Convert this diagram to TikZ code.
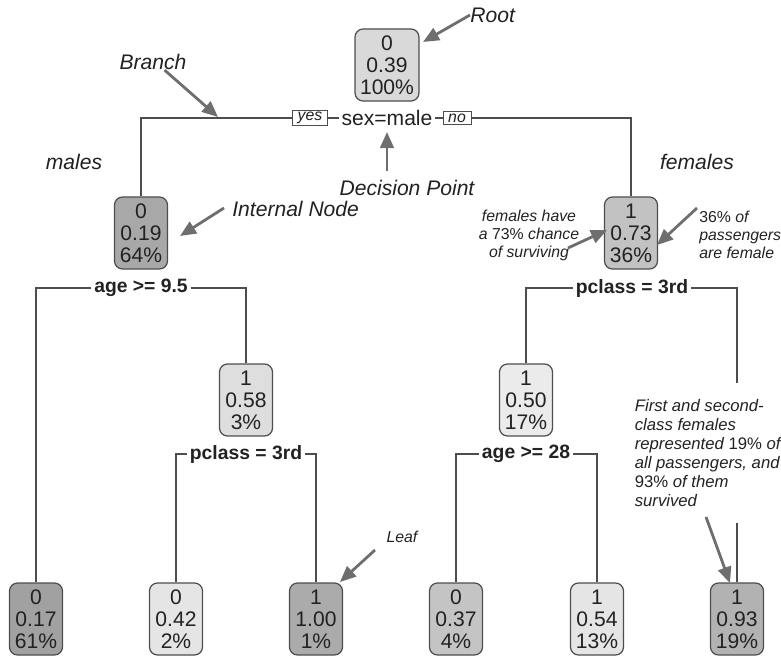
\documentclass[tikz,border=0pt]{standalone}
\usepackage{fontspec}
\setmainfont{Liberation Sans}
\usepackage{tikz}
\usetikzlibrary{arrows.meta}
\definecolor{ln}{HTML}{4D4D4D}
\definecolor{ptr}{HTML}{6E6E6E}
\definecolor{txt}{HTML}{222222}
\tikzstyle{nd}=[draw=ln,line width=0.7pt,rounded corners=0.16cm,align=center,
                minimum width=1.06cm,minimum height=1.44cm,inner sep=0.1cm,
                text=txt,font=\fontsize{12}{12.5}\selectfont]
\tikzstyle{spl}=[fill=white,inner sep=1.5pt,text=txt,font=\bfseries\fontsize{11}{12}\selectfont]
\tikzstyle{yn}=[draw=ln,fill=white,line width=0.5pt,inner xsep=3pt,inner ysep=1pt,
                text=txt,font=\itshape\fontsize{9}{10}\selectfont]
\tikzstyle{br}=[draw=ln,line width=0.6pt]
\tikzstyle{pt}=[draw=ptr,line width=1.6pt,-{Triangle[length=0.32cm,width=0.27cm]}]
\tikzstyle{lbl}=[inner sep=0pt,text=txt,font=\itshape\fontsize{12}{13}\selectfont]
\tikzstyle{sm}=[inner sep=0pt,text=txt,font=\itshape\fontsize{9}{10.2}\selectfont]

\begin{document}
\begin{tikzpicture}[x=0.02cm,y=-0.02cm]
\useasboundingbox (0,0) rectangle (781,656);
% ends of the pointers
\coordinate (A1) at (423,42);
\coordinate (A2) at (218,117);
\coordinate (A3) at (387,171);
\coordinate (A4) at (387,132);
\coordinate (A5) at (224,208);
\coordinate (A6) at (180,236);
\coordinate (A7) at (568,248);
\coordinate (A8) at (607,230);
\coordinate (A9) at (697,208);
\coordinate (A10) at (657,245);
\coordinate (A11) at (375,550);
\coordinate (A12) at (340,582);
\coordinate (A13) at (706,517);
\coordinate (A14) at (730,583);
% tree nodes
\node[nd,fill=black!15] (r) at (387,65) {0\\0.39\\100\%};
\node[nd,fill=black!34] (m) at (141,233) {0\\0.19\\64\%};
\node[nd,fill=black!24] (f) at (631,233) {1\\0.73\\36\%};
\node[nd,fill=black!13] (m2) at (246,400) {1\\0.58\\3\%};
\node[nd,fill=black!8] (f2) at (526,400) {1\\0.50\\17\%};
\node[nd,fill=black!37] (l1) at (36,619) {0\\0.17\\61\%};
\node[nd,fill=black!10] (l2) at (176,619) {0\\0.42\\2\%};
\node[nd,fill=black!33] (l3) at (316,619) {1\\1.00\\1\%};
\node[nd,fill=black!23] (l4) at (456,619) {0\\0.37\\4\%};
\node[nd,fill=black!10] (l5) at (597,619) {1\\0.54\\13\%};
\node[nd,fill=black!30] (l6) at (737,619) {1\\0.93\\19\%};
% splits
\node[spl,font=\fontsize{12}{13}\selectfont] (s1) at (387,118) {sex=male};
\node[spl] (s2) at (141,288) {age >= 9.5};
\node[spl] (s3) at (632,288) {pclass = 3rd};
\node[spl] (s4) at (246,454) {pclass = 3rd};
\node[spl] (s5) at (526,454) {age >= 28};
\draw[br] (s1.west) -| (m.north);
\draw[br] (s1.east) -| (f.north);
\draw[br] (s2.west) -| (l1.north);
\draw[br] (s2.east) -| (m2.north);
\draw[br] (s3.west) -| (f2.north);
\draw[br] (s3.east) -| (l6.north);
\draw[br] (s4.west) -| (l2.north);
\draw[br] (s4.east) -| (l3.north);
\draw[br] (s5.west) -| (l4.north);
\draw[br] (s5.east) -| (l5.north);
\node[yn] (y) at (310,118) {yes};
\node[yn] (n) at (457,118) {no};
% notes
\node[lbl,anchor=west] (tr) at (470,15) {Root};
\node[lbl] (tb) at (153,62) {Branch};
\node[lbl] (tdp) at (407,188) {Decision Point};
\node[lbl,anchor=west] (tin) at (232,209) {Internal Node};
\node[lbl] (tm) at (74,162) {males};
\node[lbl] (tf) at (697,162) {females};
\node[sm,align=center] (tfs) at (529,235) {females have\\a {\upshape 73\%} chance\\of surviving};
\node[sm,align=left,anchor=west] (tfp) at (699,235) {{\upshape 36\%} of\\passengers\\are female};
\node[sm] (tlf) at (402,537) {Leaf};
\node[sm,align=left,anchor=west,fill=white,inner xsep=2pt,inner ysep=0.32cm,
      font=\itshape\fontsize{9.5}{10.8}\selectfont] (tfc) at (631,453)
  {First and second-\\class females\\represented {\upshape 19\%} of\\all passengers, and\\{\upshape 93\%} of them\\survived};
\draw[pt] (tr.west) -- (A1);
\draw[pt] (tb.-35) -- (A2);
\draw[pt] (A3) -- (A4);
\draw[pt] (A5) -- (A6);
\draw[pt] (A7) -- (A8);
\draw[pt] (A9) -- (A10);
\draw[pt] (A11) -- (A12);
\draw[pt] (A13) -- (A14);
\end{tikzpicture}
\end{document}
